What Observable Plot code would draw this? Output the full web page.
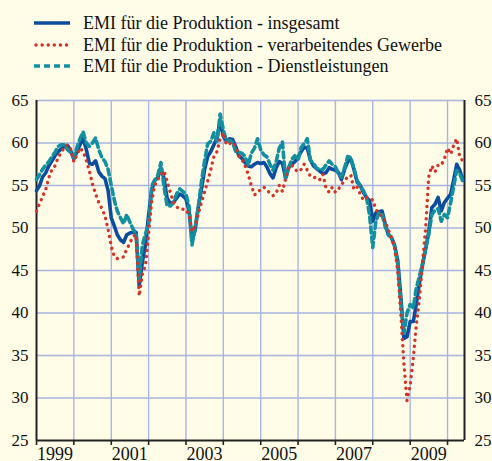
<!DOCTYPE html>
<html>
<head>
<meta charset="utf-8">
<script src="https://cdn.jsdelivr.net/npm/d3@7"></script>
<script src="https://cdn.jsdelivr.net/npm/@observablehq/plot@0.6"></script>
<style>
  html, body { margin: 0; padding: 0; background: #fffde8; }
  body { width: 492px; height: 461px; overflow: hidden; font-family: "Liberation Serif", "Times New Roman", serif; }
  #legend { position: relative; height: 84px; }
  .item { position: absolute; left: 34px; height: 20px; display: flex; align-items: center; font-size: 18px; color: #111; white-space: nowrap; }
  .item svg { width: 36px; height: 8px; margin-right: 13px; }
</style>
</head>
<body>
<div id="legend"></div>
<div id="chart"></div>
<script>
// Series names (legend)
const seriesNames = [
  "EMI für die Produktion - insgesamt",
  "EMI für die Produktion - verarbeitendes Gewerbe",
  "EMI für die Produktion - Dienstleistungen"
];
// Monthly data, starting January 1999
const startYear = 1999;
const total = [
  54.4,55.0,56.0,56.5,57.3,57.9,58.5,59.0,59.3,59.6,59.7,59.1,
  58.1,59.0,59.8,60.5,59.3,57.6,57.5,57.9,56.6,56.1,55.8,54.4,
  51.2,50.2,49.2,48.6,48.3,49.2,49.4,49.5,49.5,43.2,46.0,48.0,
  51.5,54.5,55.6,55.9,57.1,55.8,53.5,52.9,53.0,53.5,54.0,53.8,
  53.4,52.0,48.5,49.8,52.4,54.5,56.8,58.4,59.0,59.8,60.6,62.6,
  60.8,60.2,60.5,60.4,59.6,58.5,58.2,57.7,57.3,57.2,57.5,57.7,
  57.6,57.7,57.2,56.4,55.9,57.1,57.8,57.6,55.9,57.1,57.5,57.8,
  58.3,59.0,59.5,59.4,58.0,57.3,57.0,56.7,56.4,56.5,57.1,56.9,
  56.8,56.5,55.7,56.9,57.8,58.1,56.9,55.4,55.0,54.2,53.6,53.2,
  50.8,51.8,51.9,52.0,50.5,49.2,48.9,48.0,46.2,42.0,37.0,37.2,
  39.0,39.0,41.0,43.5,45.6,47.5,49.5,52.4,52.8,53.6,52.0,53.0,
  53.5,54.0,55.6,57.5,56.8,55.6
];
const manufacturing = [
  52.0,52.9,53.7,54.5,55.9,56.9,57.3,58.3,58.9,59.5,59.8,59.3,
  57.8,58.6,59.4,59.0,58.0,56.7,55.2,54.0,53.0,52.3,51.4,49.8,
  47.8,46.6,46.4,46.5,46.6,47.5,48.2,49.0,49.2,42.0,44.6,45.6,
  49.4,53.2,55.0,55.7,56.3,56.7,55.5,54.2,53.0,52.5,52.2,52.2,
  52.2,51.4,49.6,50.2,51.6,53.0,54.2,55.5,56.9,58.4,59.0,60.5,
  61.2,59.8,59.9,60.1,59.6,58.5,58.1,57.3,56.3,55.0,53.9,54.1,
  54.6,54.8,54.5,54.1,53.8,54.1,55.0,54.3,55.8,57.2,57.4,56.9,
  56.6,56.9,57.5,56.8,56.1,55.9,56.0,55.7,56.3,54.7,54.2,54.8,
  54.2,54.6,55.1,55.6,56.0,56.2,54.5,54.8,54.0,53.3,53.6,53.4,
  53.3,52.2,51.6,51.4,50.8,49.8,48.9,47.8,45.0,40.0,34.0,29.7,
  31.5,34.8,38.5,41.7,45.8,50.0,56.0,57.3,56.6,57.4,57.4,58.1,
  59.4,58.7,59.7,60.5,58.3,57.9
];
const services = [
  55.7,56.3,56.9,57.4,57.8,58.4,58.9,59.6,59.8,59.8,59.2,58.9,
  58.3,59.5,60.5,61.3,60.0,59.6,60.0,60.6,59.2,58.3,57.8,56.9,
  55.0,53.2,52.0,51.2,50.5,51.6,50.7,49.9,49.3,44.0,48.0,49.3,
  50.5,55.0,55.6,56.2,57.7,54.8,52.6,52.6,53.0,54.0,54.6,54.3,
  54.0,52.5,48.0,50.0,52.4,55.4,57.8,59.9,60.2,61.2,60.2,63.4,
  61.6,60.2,60.3,60.1,59.0,58.9,58.8,58.4,57.4,58.8,59.4,60.5,
  59.2,58.6,58.4,57.5,56.8,57.8,59.4,60.1,55.7,57.1,58.1,58.5,
  58.0,59.5,59.9,60.5,58.0,57.6,57.0,56.9,56.9,57.4,57.9,57.5,
  57.2,56.4,56.0,57.1,58.4,58.3,57.0,55.6,55.0,54.4,53.6,51.5,
  47.7,50.8,51.8,51.6,50.2,49.3,48.9,47.9,45.8,41.2,37.6,40.0,
  41.0,40.6,42.9,44.3,45.8,47.6,49.2,51.6,52.1,52.3,50.8,51.6,
  51.2,53.0,54.8,56.8,56.4,55.4
];
const yTicks = [25, 30, 35, 40, 45, 50, 55, 60, 65];
const yearLabels = [1999, 2001, 2003, 2005, 2007, 2009];
const yearTicks = d3.range(1999, 2011);

const colors = ["#0b4c9f", "#d23427", "#13909f"];
const bg = "#fffde8";
const gridColor = "#a9b5e0";
const axisColor = "#222";

const toRows = (arr) => arr.map((v, i) => ({date: new Date(startYear, i, 1), value: v}));
const rowsTotal = toRows(total);
const rowsMan = toRows(manufacturing);
const rowsServ = toRows(services);

const xDomain = [new Date(1999, 0, 1), new Date(2010, 5, 16)];

// Legend
const legend = document.getElementById("legend");
const tops = [13, 35, 56];
const dashes = [null, "0.1 6", "6 4"];
const caps = ["butt", "round", "butt"];
seriesNames.forEach((name, i) => {
  const div = document.createElement("div");
  div.className = "item";
  div.style.top = tops[i] + "px";
  div.innerHTML = `<svg viewBox="0 0 36 8"><line x1="${i===1?2:0}" x2="36" y1="4" y2="4" stroke="${colors[i]}" stroke-width="${i===1?3.4:3.6}" ${dashes[i] ? `stroke-dasharray="${dashes[i]}"` : ""} stroke-linecap="${caps[i]}"/></svg><span>${name}</span>`;
  legend.appendChild(div);
});

const chart = Plot.plot({
  width: 492,
  height: 377,
  marginLeft: 36,
  marginRight: 28,
  marginTop: 16,
  marginBottom: 21,
  style: {background: bg, fontFamily: "'Liberation Serif', 'Times New Roman', serif", fontSize: "17px", color: "#111", overflow: "visible"},
  x: {type: "time", domain: xDomain},
  y: {domain: [25, 65]},
  marks: [
    Plot.gridY(yTicks.filter(d => d > 25), {stroke: gridColor, strokeOpacity: 1, strokeWidth: 1.4}),
    Plot.gridX(yearTicks.filter(y => y > 1999).map(y => new Date(y, 0, 1)), {stroke: gridColor, strokeOpacity: 1, strokeWidth: 1.4}),
    Plot.axisY(yTicks, {anchor: "left", tickSize: 0, tickPadding: 8, label: null}),
    Plot.axisY(yTicks, {anchor: "right", tickSize: 0, tickPadding: 10, label: null}),
    Plot.axisX(yearTicks.map(y => new Date(y, 0, 1)), {tickSize: 5, tickFormat: () => "", label: null, stroke: axisColor, strokeWidth: 1.6}),
    Plot.axisX(yearLabels.map(y => new Date(y, 6, 1)), {tickSize: 0, tickPadding: 7, tickFormat: d3.timeFormat("%Y"), label: null, fontSize: 18}),
    Plot.ruleX([xDomain[0]], {stroke: axisColor, strokeWidth: 2}),
    Plot.ruleX([xDomain[1]], {stroke: axisColor, strokeWidth: 2}),
    Plot.ruleY([25], {stroke: axisColor, strokeWidth: 1.8}),
    Plot.line(rowsTotal, {x: "date", y: "value", stroke: colors[0], strokeWidth: 3.6, strokeLinejoin: "round"}),
    Plot.line(rowsServ, {x: "date", y: "value", stroke: colors[2], strokeWidth: 3.6, strokeDasharray: "6 4"}),
    Plot.line(rowsMan, {x: "date", y: "value", stroke: colors[1], strokeWidth: 3.4, strokeDasharray: "0.1 6", strokeLinecap: "round"})
  ]
});
document.getElementById("chart").appendChild(chart);
</script>
</body>
</html>
